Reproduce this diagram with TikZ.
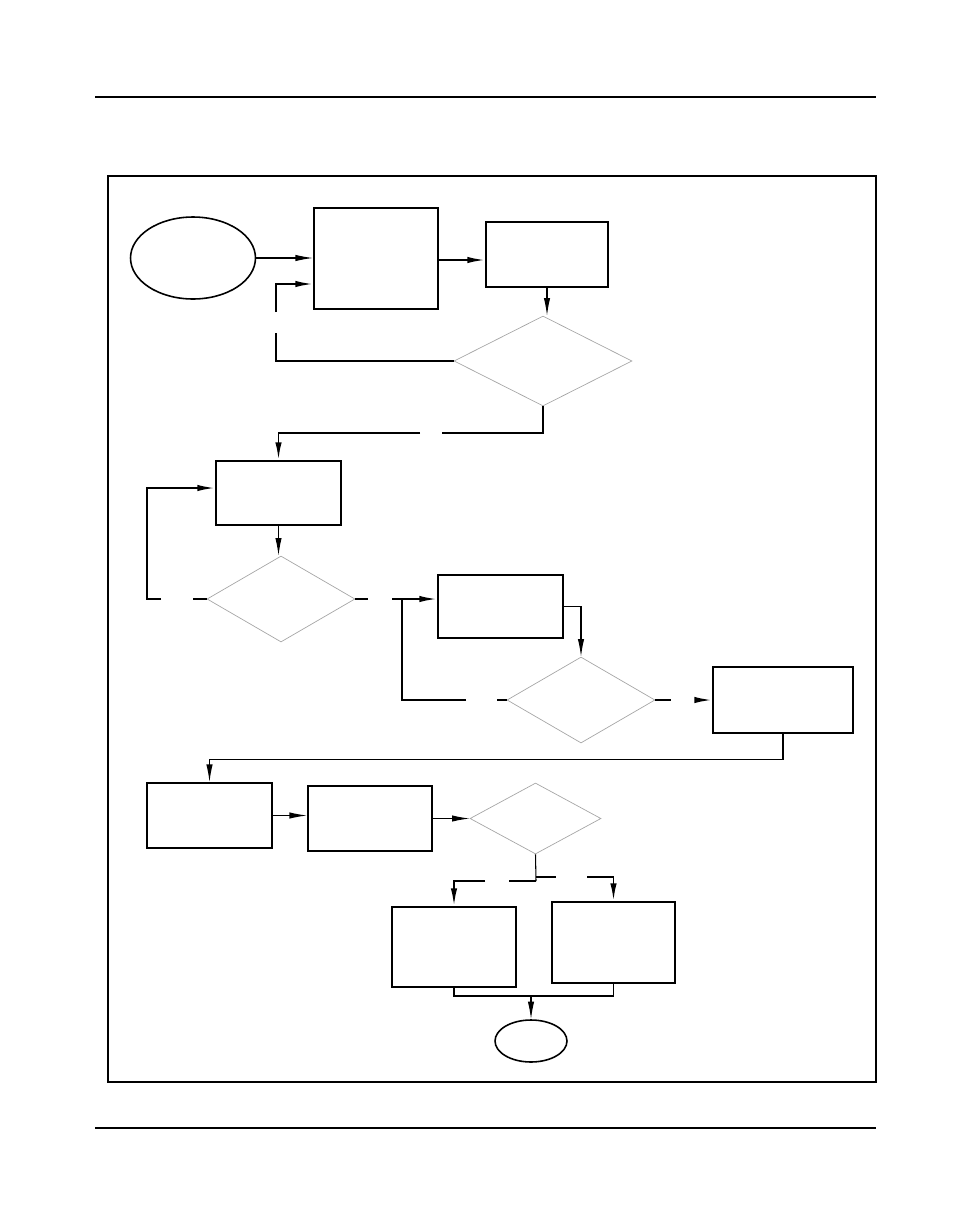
\documentclass[tikz,border=0pt]{standalone}
\usepackage{tikz}
\usetikzlibrary{arrows.meta, positioning, shapes.geometric, calc}

\begin{document}
\begin{tikzpicture}[x=0.02cm, y=-0.02cm,
  blk/.style={draw, line width=1.1pt, inner sep=0pt},
  dec/.style={diamond, draw=gray!70, line width=0.4pt, inner sep=0pt},
  term/.style={ellipse, draw, line width=0.9pt, inner sep=0pt},
  flow/.style={-{Latex[length=10pt,width=3.6pt]}, line width=1.1pt},
  thinflow/.style={-{Latex[length=10pt,width=3.6pt]}, line width=0.6pt},
  seg/.style={line width=1.1pt},
]
  \useasboundingbox (0,0) rectangle (972,1224);
  % page rules and frame
  \draw[line width=0.6pt] (95,97) -- (876,97);
  \draw[line width=0.6pt] (95,1128) -- (876,1128);
  \draw[line width=0.6pt] (108,176) rectangle (876,1082);

  \node[term, minimum width=2.5cm, minimum height=1.64cm] (st) at (193,258) {};
  \node[blk, minimum width=2.48cm, minimum height=2.02cm] (a) at (376,258.5) {};
  \node[blk, minimum width=2.44cm, minimum height=1.30cm] (b) at (547,254.5) {};
  \node[dec, minimum width=3.56cm, minimum height=1.80cm] (d1) at (543,361) {};
  \node[blk, minimum width=2.5cm, minimum height=1.28cm] (c) at (278.5,493) {};
  \node[dec, minimum width=2.96cm, minimum height=1.72cm] (d2) at (281,599) {};
  \node[blk, minimum width=2.5cm, minimum height=1.26cm] (e) at (500.5,606.5) {};
  \node[dec, minimum width=2.96cm, minimum height=1.72cm] (d3) at (581,700) {};
  \node[blk, minimum width=2.8cm, minimum height=1.32cm] (f) at (783,700) {};
  \node[blk, minimum width=2.5cm, minimum height=1.3cm] (g) at (209.5,815.5) {};
  \node[blk, minimum width=2.48cm, minimum height=1.3cm] (h) at (370,818.5) {};
  \node[dec, minimum width=2.62cm, minimum height=1.42cm] (d4) at (535.5,818.5) {};
  \node[blk, minimum width=2.48cm, minimum height=1.6cm] (i) at (454,947) {};
  \node[blk, minimum width=2.46cm, minimum height=1.62cm] (j) at (613.5,942.5) {};
  \node[term, minimum width=1.44cm, minimum height=0.84cm] (en) at (531,1041) {};

  % gap ends
  \coordinate (g1a) at (276,333);  \coordinate (g1b) at (276,312);
  \coordinate (g2a) at (442,433);  \coordinate (g2b) at (420,433);
  \coordinate (g3a) at (193,599);  \coordinate (g3b) at (161,599);
  \coordinate (k3) at (147,599);
  \coordinate (g4a) at (368,599);  \coordinate (g4b) at (392,599);
  \coordinate (g5a) at (497,700);  \coordinate (g5b) at (466,700);
  \coordinate (k5) at (402,599);
  \coordinate (g6a) at (671,700);  \coordinate (g6b) at (695,700);
  \coordinate (s4l) at (536,881);  \coordinate (s4r) at (536,877);
  \coordinate (g7a) at (509,881);  \coordinate (g7b) at (485,881);
  \coordinate (g8a) at (556,877);  \coordinate (g8b) at (587,877);

  \draw[thinflow] (st.east) -- (st.east -| a.west);
  \draw[flow] ([yshift=-0.11cm]b.west -| a.east) -- ([yshift=-0.11cm]b.west);
  \draw[thinflow] (b.south) -- (b.south |- d1.north);
  \draw[seg] (d1.west) -| (g1a);
  \draw[flow] (g1b) |- ([yshift=-0.51cm]a.west);
  \draw[seg] (d1.south) |- (g2a);
  \draw[flow] (g2b) -| (c.north);
  \draw[thinflow] (c.south) -- (c.south |- d2.north);
  \draw[seg] (d2.west) -- (g3a);
  \draw[flow] (g3b) -- (k3) |- ([yshift=0.1cm]c.west);
  \draw[seg] (d2.east) -- (g4a);
  \draw[flow] (g4b) -- (e.west |- d2.east);
  \draw[thinflow] (e.east) -| (d3.north);
  \draw[seg] (d3.west) -- (g5a);
  \draw[seg] (g5b) -| (k5);
  \draw[seg] (d3.east) -- (g6a);
  \draw[flow] (g6b) -- (f.west);
  \draw[thinflow] (f.south) -- ++(0,26) -| (g.north);
  \draw[thinflow] (g.east) -- (g.east -| h.west);
  \draw[thinflow] (h.east) -- (h.east -| d4.west);
  \draw[line width=0.6pt] (d4.south) -- (s4l);
  \draw[seg] (s4l) -- (g7a);
  \draw[flow] (g7b) -| (i.north);
  \draw[seg] (s4r) -- (g8a);
  \draw[flow] (g8b) -| (j.north);
  \draw[line width=0.6pt] (i.south) |- (j.south |- 0,996) -- (j.south);
  \draw[thinflow] (en.north |- 0,996) -- (en.north);
\end{tikzpicture}
\end{document}
